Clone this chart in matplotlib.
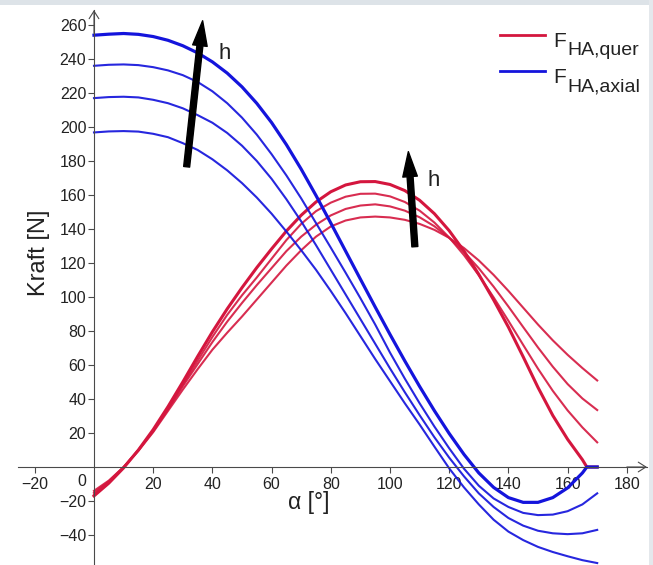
import matplotlib
matplotlib.use('Agg')
import matplotlib.pyplot as plt
from matplotlib.lines import Line2D
from matplotlib.patches import Rectangle

# angle grid [deg]; the thickest curves drop to 0 at ~166.5 and stay there
alpha = [0, 5, 10, 15, 20, 25, 30, 35, 40, 45, 50, 55, 60, 65, 70, 75, 80, 85,
         90, 95, 100, 105, 110, 115, 120, 125, 130, 135, 140, 145, 150, 155,
         160, 165, 170]
alpha_thick = alpha[:-1] + [166.5, 170]

# F_HA,axial [N], h increasing from h1 to h4
axial_h1 = [196.8, 197.4, 197.6, 197.3, 196, 194, 190.5, 186.5, 181, 174.5,
            167, 158.5, 149, 138.5, 127.5, 116, 103.5, 90.5, 77, 63.5, 50.5,
            37.5, 25, 12, -0.8, -12, -22, -31, -38, -43, -47, -50, -52.5,
            -54.8, -56.5]
axial_h2 = [217, 217.6, 217.8, 217.4, 216, 214, 211, 207, 202.5, 196.5, 189,
            180, 169.5, 157.5, 144.5, 130.5, 116, 101.5, 87, 72.5, 58, 44,
            30.5, 17.5, 5.5, -5.5, -15.5, -23.5, -30, -34.5, -37.5, -39, -39.5,
            -39, -37]
axial_h3 = [236, 236.6, 236.8, 236.4, 235.2, 233.3, 230.5, 226.5, 221, 214,
            205.5, 195.5, 184, 171.5, 158, 143.5, 129, 114.3, 99.3, 83.8, 67.3,
            52, 37.5, 23.8, 11, -1, -11, -18.5, -23.5, -27, -28.3, -28, -26,
            -22, -15.5]
axial_h4 = [254, 254.6, 255, 254.5, 253.2, 251, 247.8, 243.6, 238.3, 231.7,
            223.6, 213.9, 202.6, 189.6, 175.2, 159.7, 143.5, 127, 110.5, 94.1,
            78, 62.4, 47.4, 33.1, 19.7, 7.4, -3.5, -12, -18, -20.8, -20.8, -18,
            -12.3, -3.5, 0, 0]

# F_HA,quer [N]
quer_h1 = [-14, -8, 0, 9.5, 20.5, 33, 45.5, 57.5, 69, 79, 88.5, 98.5, 108.5,
           118.5, 127.5, 135.5, 141.5, 145, 146.8, 147.3, 146.8, 145.4, 143,
           139.5, 134.8, 128.8, 121.5, 113, 103.6, 93.7, 83.8, 74.5, 66, 58.2,
           50.9]
quer_h2 = [-15, -8.5, 0, 10, 21, 34, 47.5, 60.5, 73.5, 85.5, 96.5, 107, 117,
           127, 135.5, 142.5, 148, 151.8, 153.8, 154.5, 153.3, 150.8, 146.9,
           141.6, 134.8, 126.5, 116.9, 106.1, 94.4, 82.3, 70.3, 59, 48.8, 40.3,
           33.5]
quer_h3 = [-16, -9, -0.3, 10, 21.3, 34.5, 48.5, 62.5, 76.5, 89.5, 101, 111.5,
           122.5, 133.5, 143, 150.5, 155.5, 159, 160.7, 160.8, 159.2, 155.9,
           150.8, 143.8, 135, 124.6, 112.8, 99.8, 86, 71.8, 57.8, 44.8, 33.3,
           23.3, 14.5]
quer_h4 = [-17, -9.5, -0.5, 10, 22, 35.5, 50, 65, 79.5, 93, 105.5, 117.3,
           128.3, 138.8, 148.1, 155.9, 161.9, 165.9, 167.8, 167.9, 166.2, 162.6,
           156.9, 149, 139, 127, 113.3, 98.3, 82.3, 64.8, 46.8, 30.3, 16.3, 4.3,
           0, 0]

RED = '#d4163e'
BLUE = '#1414dc'
AXC = '#4a4a4a'
TXT = '#222222'

plt.rcParams['font.family'] = ['Liberation Sans', 'DejaVu Sans']

W, H = 653, 565
fig = plt.figure(figsize=(W / 100, H / 100), dpi=100)
ax = fig.add_axes([0, 0, 1, 1])

# pixel mapping of the original: origin at (94, 467), 2.96 px/deg, 1.7 px/N
ax.set_xlim(-94 / 2.96, (W - 94) / 2.96)
ax.set_ylim(-(H - 467) / 1.7, 467 / 1.7)

for ys in [quer_h1, quer_h2, quer_h3]:
    ax.plot(alpha, ys, color=RED, lw=1.5, alpha=0.9)
ax.plot(alpha_thick, quer_h4, color=RED, lw=2.2)

for ys in [axial_h1, axial_h2, axial_h3]:
    ax.plot(alpha, ys, color=BLUE, lw=1.5, alpha=0.92)
ax.plot(alpha_thick, axial_h4, color=BLUE, lw=2.3)

# axes through the origin
for side in ['top', 'right']:
    ax.spines[side].set_visible(False)
ax.spines['left'].set_position(('data', 0))
ax.spines['bottom'].set_position(('data', 0))
ax.spines['left'].set_bounds(-60, 268.8)
ax.spines['bottom'].set_bounds(-25.7, 186.8)
for side in ['left', 'bottom']:
    ax.spines[side].set_color(AXC)
    ax.spines[side].set_linewidth(0.8)
ax.annotate('', xy=(186.8, 0), xytext=(180, 0),
            arrowprops=dict(arrowstyle='->,head_length=0.55,head_width=0.35',
                            color=AXC, lw=0.8, shrinkA=0, shrinkB=0))
ax.annotate('', xy=(0, 268.8), xytext=(0, 255),
            arrowprops=dict(arrowstyle='->,head_length=0.55,head_width=0.35',
                            color=AXC, lw=0.8, shrinkA=0, shrinkB=0))

ax.set_xticks([-20, 20, 40, 60, 80, 100, 120, 140, 160, 180])
ax.set_yticks([-40, -20, 20, 40, 60, 80, 100, 120, 140, 160, 180, 200, 220,
               240, 260])
ax.tick_params(axis='both', direction='out', length=4, width=0.8, color=AXC,
               labelsize=11.5, labelcolor=TXT)
ax.tick_params(axis='x', pad=3)
ax.tick_params(axis='y', pad=1.5)
ax.text(-4.1, -8.6, '0', fontsize=11.5, color=TXT, ha='center', va='center')

ax.text(72.5, -21, 'α [°]', fontsize=16.5, ha='center', va='center',
        color=TXT)
ax.text(-18.6, 126, 'Kraft [N]', fontsize=17, rotation=90, ha='center',
        va='center', color=TXT)

# h arrows
astyle = 'simple,head_length=18,head_width=10.5,tail_width=4.3'
ax.annotate('', xy=(36.7, 262.5), xytext=(31.3, 176.6),
            arrowprops=dict(arrowstyle=astyle, mutation_scale=1,
                            color='black', shrinkA=0, shrinkB=0))
ax.annotate('', xy=(106.2, 185.5), xytext=(108.4, 129.6),
            arrowprops=dict(arrowstyle=astyle, mutation_scale=1,
                            color='black', shrinkA=0, shrinkB=0))
ax.text(44.3, 243.5, 'h', fontsize=16, ha='center', va='center', color=TXT)
ax.text(114.6, 168.8, 'h', fontsize=16, ha='center', va='center', color=TXT)

# legend, drawn by hand to get the large subscripts
for y, col, sub in [(35, RED, 'HA,quer'), (71, BLUE, 'HA,axial')]:
    fig.add_artist(Line2D([500 / W, 545 / W], [1 - y / H, 1 - y / H],
                          color=col, lw=2, transform=fig.transFigure))
    fig.text(553 / W, 1 - (y + 11.7) / H, 'F', fontsize=15, va='baseline',
             color=TXT)
    fig.text(567 / W, 1 - (y + 20) / H, sub, fontsize=14, va='baseline',
             color=TXT)

# light frame of the screenshot
fig.add_artist(Rectangle((0, 1 - 5 / H), 1, 5 / H, transform=fig.transFigure,
                         color='#dde3e8', lw=0))
fig.add_artist(Rectangle((1 - 4 / W, 0), 4 / W, 1, transform=fig.transFigure,
                         color='#e4e8ec', lw=0))

fig.savefig('out.png', dpi=100)
